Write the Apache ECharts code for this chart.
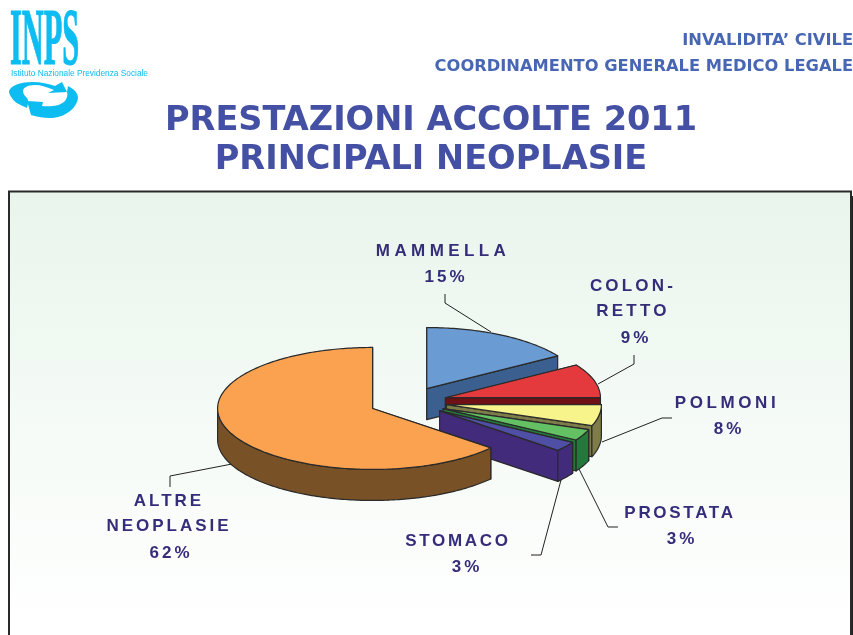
<!DOCTYPE html>
<html><head><meta charset="utf-8">
<style>html,body{margin:0;padding:0;background:#fff}#c{width:853px;height:635px}</style>
<script src="https://cdn.jsdelivr.net/npm/echarts@6/dist/echarts.min.js"></script></head>
<body><div id="c"></div>
<script>
// ---- data ----
const categories = ['MAMMELLA', 'COLON-\nRETTO', 'POLMONI', 'PROSTATA', 'STOMACO', 'ALTRE\nNEOPLASIE'];
const printedPercent = [15, 9, 8, 3, 3, 62];
// share of the circle each wedge actually occupies in the drawing (%)
const drawnShare = [16, 9, 5.6, 3, 2.6, 63.8];

// ---- styles and layout ----
const topColors = ['#6A9BD3', '#E53A3D', '#F8F48C', '#63C163', '#4F4FA5', '#FAA24F'];
const sideColors = ['#3B5F8E', '#6E1015', '#7E7D4A', '#24783C', '#432B7C', '#785126'];
const namePos = [[443, 251.5], [633, 299], [727, 403.5], [680, 513], [458, 541], [169, 514]];
const percentPos = [[446, 277], [636, 338.5], [729, 429], [682, 539], [467, 567], [171, 553.5]];
const leaders = [
  [[445, 294], [445, 303], [491, 332]],
  [[634, 355], [634, 364], [598, 384]],
  [[672, 418], [662, 418], [602, 442]],
  [[618, 527], [608, 527], [579, 469]],
  [[531, 555], [541, 555], [561, 480]],
  [[170, 487], [170, 476], [232, 464]]
];
const CX = 408, CY = 402, RX = 155, RY = 61, DEPTH = 31, EXPLODE = 39;
const LABEL_FONT = 'bold 17px "Liberation Sans"', LABEL_COLOR = '#352D7A', EDGE = '#2A2A2A';

// Tracked lettering of the slide labels: canvas letterSpacing, text stays whole.
const tracking = new Map([['MAMMELLA', 4.4], ['POLMONI', 3.6], ['COLON-', 3.2], ['RETTO', 3.2], ['PROSTATA', 2.7],
  ['STOMACO', 2.7], ['ALTRE', 3], ['NEOPLASIE', 3]]);
printedPercent.forEach(p => tracking.set(p + '%', 3));
const nativeFill = CanvasRenderingContext2D.prototype.fillText;
CanvasRenderingContext2D.prototype.fillText = function (t, x, y, m) {
  this.letterSpacing = (tracking.get(t) || 0) + 'px';
  return m === undefined ? nativeFill.call(this, t, x, y) : nativeFill.call(this, t, x, y, m);
};

const total = drawnShare.reduce((a, b) => a + b, 0);
const startDeg = [];
drawnShare.reduce((acc, v, i) => { startDeg[i] = acc; return acc + v / total * 360; }, 0);

function renderSlice(params, api) {
  const i = params.dataIndex;
  const a0 = startDeg[i], a1 = a0 + api.value(0) / total * 360, mid = (a0 + a1) / 2 * Math.PI / 180;
  const ax = CX + EXPLODE * Math.sin(mid), ay = CY - EXPLODE * Math.cos(mid) * RY / RX;
  const rim = d => { const r = d * Math.PI / 180; return [ax + RX * Math.sin(r), ay - RY * Math.cos(r)]; };
  const sweep = (from, to) => {
    const pts = [], n = Math.max(1, Math.ceil(to - from));
    for (let k = 0; k <= n; k++) pts.push(rim(from + (to - from) * k / n));
    return pts;
  };
  const arc = sweep(a0, a1);
  const drop = p => [p[0], p[1] + DEPTH];
  const side = { fill: sideColors[i], stroke: EDGE, lineWidth: 1.2, lineJoin: 'round' };
  const apex = [ax, ay];
  const face = end => ({ type: 'polygon', shape: { points: [apex, end, drop(end), drop(apex)] }, style: side });
  const children = [
    { type: 'polyline', shape: { points: leaders[i] }, style: { fill: null, stroke: '#222', lineWidth: 1 } },
    face(arc[0]),
    face(arc[arc.length - 1])
  ];
  // the outer wall only shows on the near half of the rim
  const w0 = Math.max(a0, 90), w1 = Math.min(a1, 270);
  if (w1 > w0) {
    const wall = sweep(w0, w1);
    children.push({ type: 'polygon', shape: { points: wall.concat(wall.map(drop).reverse()) }, style: side });
  }
  children.push(
    { type: 'polygon', shape: { points: [apex].concat(arc) },
      style: { fill: topColors[i], stroke: EDGE, lineWidth: 1.2, lineJoin: 'round' } },
    { type: 'text', x: namePos[i][0], y: namePos[i][1],
      style: { text: categories[i], font: LABEL_FONT, fill: LABEL_COLOR,
        align: 'center', verticalAlign: 'middle', lineHeight: 25.5 } },
    { type: 'text', x: percentPos[i][0], y: percentPos[i][1],
      style: { text: printedPercent[i] + '%', font: LABEL_FONT, fill: LABEL_COLOR,
        align: 'center', verticalAlign: 'middle' } }
  );
  return { type: 'group', children };
}

const CYAN = '#0DBCF1';
function renderLogoSwirl() {
  return { type: 'group', children: [
    { type: 'path', shape: { pathData: 'M9,91 C11,85 22,82 32,82 C41,82 49,84 55,86 L62,82 L67,92 L48,93 L54,90 C47,87 41,85 35,85 C27,85 23,88 23,91 C23,94 25,96 27,98 C29,101 28,104 27,108 C20,105 14,102 12,98 C10,96 9,93 9,91 Z', layout: 'cover', x: 9, y: 82, width: 58, height: 26 },
      style: { fill: CYAN } },
    { type: 'path', shape: { pathData: 'M31,115 L27,101 L43,102 L42,106 C50,107 60,106 65,101 C67,98 68,95 67,92 L68,86 C74,89 78,93 78,98 C77,108 65,118 50,118 C44,118 37,117 31,115 Z', layout: 'cover', x: 27, y: 86, width: 51, height: 32 },
      style: { fill: CYAN } }
  ] };
}

const chart = echarts.init(document.getElementById('c'), null, { renderer: 'canvas' });
chart.setOption({
  animation: false,
  title: {
    text: 'PRESTAZIONI ACCOLTE 2011\nPRINCIPALI NEOPLASIE',
    left: 426, top: 97, textAlign: 'center',
    textStyle: { fontFamily: 'DejaVu Sans', fontWeight: 'bold', fontSize: 33.6, color: '#4450A3', lineHeight: 39 }
  },
  graphic: [
    { type: 'rect', z: -2, shape: { x: 851, y: 196, width: 2, height: 445 }, style: { fill: '#222' } },
    { type: 'rect', z: -1, shape: { x: 9, y: 191.5, width: 842, height: 460 },
      style: { stroke: '#2A2A2A', lineWidth: 2,
        fill: new echarts.graphic.LinearGradient(0, 0, 0, 1, [{ offset: 0, color: '#E9F5EC' }, { offset: 0.95, color: '#FFFFFF' }]) } },
    { type: 'text', x: 853, y: 41, style: { text: 'INVALIDITA’ CIVILE', align: 'right', verticalAlign: 'middle',
        font: 'bold 16.3px "DejaVu Sans"', fill: '#4766B3' } },
    { type: 'text', x: 853, y: 67, style: { text: 'COORDINAMENTO GENERALE MEDICO LEGALE', align: 'right', verticalAlign: 'middle',
        font: 'bold 16.3px "DejaVu Sans"', fill: '#4766B3' } },
    { type: 'text', x: 10, y: 43, scaleX: 0.38, style: { text: 'INPS', verticalAlign: 'middle',
        font: 'bold 80px "Liberation Serif"', fill: CYAN, stroke: CYAN, lineWidth: 1.2 } },
    { type: 'text', x: 11, y: 73.5, style: { text: 'Istituto Nazionale Previdenza Sociale', verticalAlign: 'middle',
        font: '8.3px "Liberation Sans"', fill: CYAN } }
  ],
  series: [{
    type: 'custom',
    coordinateSystem: 'none',
    renderItem: renderLogoSwirl,
    silent: true,
    data: [[1]]
  }, {
    type: 'custom',
    coordinateSystem: 'none',
    renderItem: renderSlice,
    silent: true,
    data: drawnShare.map(v => [v])
  }]
});
</script></body></html>
